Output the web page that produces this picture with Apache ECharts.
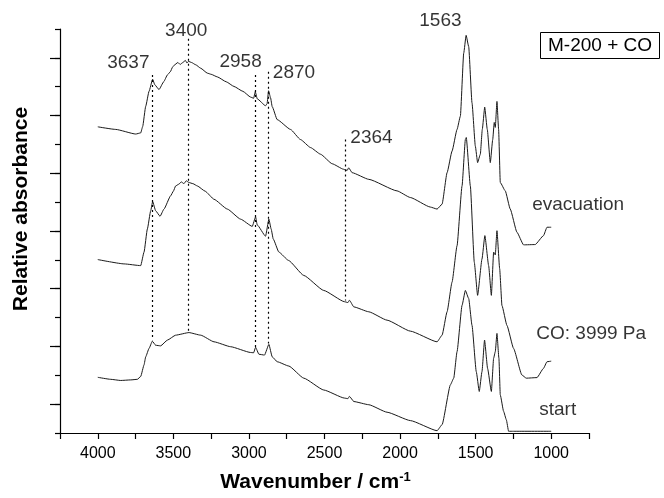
<!DOCTYPE html>
<html>
<head>
<meta charset="utf-8">
<script src="https://cdn.jsdelivr.net/npm/echarts@6/dist/echarts.min.js"></script>
<style>
  html, body { margin: 0; padding: 0; background: #fff; }
  #chart { width: 664px; height: 498px; }
</style>
</head>
<body>
<div id="chart"></div>
<script>
// spectra, [wavenumber, relative absorbance]
const evacuation = [
  [4000, 1.061], [3881, 1.052], [3749, 1.036], [3716, 1.040], [3703, 1.062], [3683, 1.132],
  [3661, 1.184], [3637, 1.226], [3623, 1.207], [3595, 1.190], [3564, 1.217], [3539, 1.241],
  [3520, 1.252], [3505, 1.268], [3496, 1.274], [3470, 1.284], [3455, 1.277], [3440, 1.283],
  [3420, 1.291], [3410, 1.282], [3400, 1.288], [3380, 1.284], [3352, 1.276], [3319, 1.264],
  [3275, 1.247], [3250, 1.243], [3209, 1.234], [3150, 1.217], [3099, 1.201], [3040, 1.184],
  [2989, 1.164], [2969, 1.160], [2958, 1.183], [2945, 1.158], [2890, 1.134], [2880, 1.141],
  [2870, 1.186], [2857, 1.162], [2846, 1.131], [2813, 1.086], [2725, 1.052], [2659, 1.017],
  [2592, 0.989], [2526, 0.966], [2449, 0.933], [2374, 0.914], [2368, 0.913], [2350, 0.910],
  [2340, 0.919], [2317, 0.902], [2207, 0.879], [2020, 0.839], [1932, 0.816], [1800, 0.783],
  [1755, 0.776], [1722, 0.793], [1689, 0.902], [1656, 0.977], [1623, 1.052], [1601, 1.098],
  [1579, 1.316], [1563, 1.378], [1546, 1.339], [1524, 1.144], [1502, 0.994], [1487, 0.937],
  [1469, 0.966], [1456, 1.052], [1440, 1.129], [1423, 1.052], [1403, 0.937], [1387, 1.017],
  [1377, 1.076], [1370, 1.059], [1359, 1.149], [1348, 1.052], [1337, 0.868], [1304, 0.839],
  [1271, 0.776], [1227, 0.696], [1183, 0.652], [1106, 0.653], [1051, 0.684], [1028, 0.713],
  [1000, 0.713]
];
const coDosed = [
  [4000, 0.601], [3826, 0.586], [3716, 0.580], [3694, 0.627], [3672, 0.707], [3650, 0.770],
  [3637, 0.802], [3617, 0.770], [3588, 0.751], [3562, 0.776], [3518, 0.822], [3500, 0.838],
  [3485, 0.856], [3465, 0.862], [3447, 0.870], [3430, 0.864], [3415, 0.874], [3397, 0.868],
  [3370, 0.864], [3341, 0.856], [3290, 0.838], [3231, 0.810], [3143, 0.776], [3055, 0.741],
  [2978, 0.716], [2956, 0.749], [2945, 0.721], [2890, 0.682], [2868, 0.741], [2853, 0.707],
  [2839, 0.672], [2802, 0.627], [2738, 0.598], [2637, 0.546], [2505, 0.494], [2368, 0.455],
  [2345, 0.452], [2335, 0.460], [2306, 0.437], [2207, 0.420], [2086, 0.391], [1932, 0.353],
  [1755, 0.316], [1722, 0.339], [1689, 0.420], [1656, 0.523], [1623, 0.649], [1590, 0.856],
  [1568, 1.017], [1562, 1.024], [1535, 0.856], [1509, 0.592], [1487, 0.477], [1458, 0.603],
  [1439, 0.684], [1414, 0.580], [1396, 0.477], [1381, 0.627], [1370, 0.617], [1359, 0.701],
  [1341, 0.569], [1326, 0.442], [1293, 0.373], [1249, 0.293], [1194, 0.201], [1165, 0.190],
  [1094, 0.192], [1051, 0.224], [1028, 0.247], [1000, 0.249]
];
const startSpec = [
  [4000, 0.193], [3914, 0.186], [3848, 0.182], [3782, 0.184], [3738, 0.186], [3716, 0.196],
  [3694, 0.236], [3683, 0.264], [3661, 0.293], [3639, 0.318], [3617, 0.304], [3584, 0.302],
  [3539, 0.322], [3485, 0.339], [3397, 0.348], [3319, 0.339], [3231, 0.316], [3121, 0.299],
  [2989, 0.279], [2969, 0.278], [2956, 0.297], [2934, 0.273], [2897, 0.270], [2868, 0.307],
  [2846, 0.264], [2813, 0.247], [2736, 0.232], [2637, 0.190], [2505, 0.149], [2368, 0.121],
  [2345, 0.119], [2335, 0.127], [2306, 0.109], [2207, 0.098], [2086, 0.072], [1932, 0.043],
  [1755, 0.008], [1722, 0.029], [1667, 0.167], [1645, 0.190], [1623, 0.282], [1590, 0.442],
  [1568, 0.494], [1546, 0.466], [1524, 0.373], [1496, 0.213], [1476, 0.144], [1458, 0.213],
  [1441, 0.322], [1421, 0.224], [1396, 0.144], [1381, 0.259], [1370, 0.282], [1359, 0.345],
  [1346, 0.259], [1337, 0.132], [1315, 0.075], [1297, 0.046], [1282, 0.006], [1249, 0.006],
  [1000, 0.006]
];

// marked bands: position, dotted line top / bottom, label anchor
const peaks = [3637, 3400, 2958, 2870, 2364, 1563];
const peakTop = [1.241, 1.366, 1.241, 1.252, 1.017, 1.448];
const peakBottom = [0.321, 0.352, 0.297, 0.310, 0.459, 0.500];
const peakLabelX = [3798, 3415, 3055, 2702, 2189, 1733];
const peakLabelY = [1.283, 1.393, 1.286, 1.248, 1.024, 1.428];

// curve names (left edge of text)
const curveNames = ['evacuation', 'CO: 3999 Pa', 'start'];
const curveNameX = [1126, 1099, 1079];
const curveNameY = [0.790, 0.345, 0.079];

const xTicks = [750, 4250, 250];
const longTicks = [0.1, 0.3, 0.5, 0.7, 0.9, 1.1, 1.3];

const FONT = 'Liberation Sans, Arial, Helvetica, sans-serif';

const chart = echarts.init(document.getElementById('chart'), null, { renderer: 'canvas' });

const spectrumStyle = { color: '#1a1a1a', width: 1 };

function spectrum(data) {
  return {
    type: 'line',
    data: data,
    showSymbol: false,
    smooth: 0.15,
    smoothMonotone: 'x',
    lineStyle: spectrumStyle,
  };
}

const option = {
  animation: false,
  backgroundColor: '#fff',
  textStyle: { fontFamily: FONT, color: '#000' },
  title: {
    text: 'M-200 + CO',
    left: 540,
    top: 32,
    padding: [4, 8],
    borderColor: '#000',
    borderWidth: 1,
    textStyle: { fontFamily: FONT, fontSize: 19, fontWeight: 'normal', color: '#000' },
  },
  grid: { left: 60, right: 75, top: 29, bottom: 63 },
  xAxis: {
    type: 'value',
    inverse: true,
    min: xTicks[0],
    max: xTicks[1],
    interval: xTicks[2],
    name: '{b|Wavenumber / cm}{s|-1}',
    nameLocation: 'middle',
    nameGap: 38,
    nameTextStyle: {
      padding: [0, 18, 0, 0],
      rich: {
        b: { fontFamily: FONT, fontSize: 21, fontWeight: 'bold', color: '#000' },
        s: { fontFamily: FONT, fontSize: 13, fontWeight: 'bold', color: '#000', verticalAlign: 'top', padding: [0, 0, 10, 0] },
      },
    },
    axisLine: { lineStyle: { color: '#000', width: 1.2 } },
    axisTick: { length: 6, lineStyle: { color: '#000', width: 1.2 } },
    axisLabel: {
      margin: 13,
      fontSize: 16,
      fontFamily: FONT,
      color: '#000',
      formatter: v => (v % 500 === 0 ? String(v) : ''),
    },
    splitLine: { show: false },
  },
  yAxis: [
    {
      type: 'value',
      min: 0,
      max: 1.4,
      interval: 0.1,
      name: 'Relative absorbance',
      nameLocation: 'middle',
      nameGap: 28,
      nameTextStyle: { fontFamily: FONT, fontSize: 21, fontWeight: 'bold', color: '#000', padding: [0, 0, 0, 44] },
      axisLine: { show: true, lineStyle: { color: '#000', width: 1.2 } },
      axisTick: { show: true, length: 5, lineStyle: { color: '#000', width: 1.2 } },
      axisLabel: { show: false },
      splitLine: { show: false },
    },
    {
      type: 'value',
      min: 0,
      max: 1.4,
      position: 'left',
      axisLine: { show: false },
      axisTick: { show: true, length: 10, customValues: longTicks, lineStyle: { color: '#000', width: 1.2 } },
      axisLabel: { show: false },
      splitLine: { show: false },
    },
  ],
  series: [
    spectrum(evacuation),
    spectrum(coDosed),
    spectrum(startSpec),
    {
      // peak labels + dotted guide lines
      type: 'scatter',
      clip: false,
      symbolSize: 0,
      data: peaks.map((p, i) => [peakLabelX[i], peakLabelY[i], String(p)]),
      label: {
        show: true,
        position: 'inside',
        formatter: p => p.data[2],
        fontFamily: FONT,
        fontSize: 19,
        color: '#000',
      },
      markLine: {
        silent: true,
        symbol: 'none',
        animation: false,
        label: { show: false },
        lineStyle: { color: '#000', type: [2, 3], width: 1.2 },
        data: peaks.map((p, i) => [{ coord: [p, peakTop[i]] }, { coord: [p, peakBottom[i]] }]),
      },
    },
    {
      type: 'scatter',
      clip: false,
      symbolSize: 0,
      data: curveNames.map((n, i) => [curveNameX[i], curveNameY[i], n]),
      label: {
        show: true,
        position: 'inside',
        align: 'left',
        formatter: p => p.data[2],
        fontFamily: FONT,
        fontSize: 19,
        color: '#000',
      },
    },
  ],
};

chart.setOption(option);
</script>
</body>
</html>
